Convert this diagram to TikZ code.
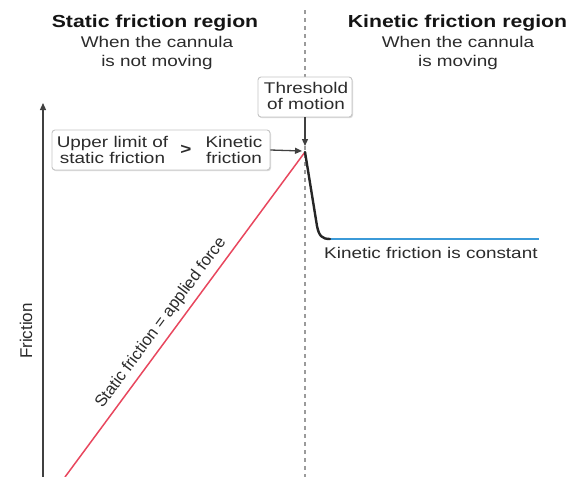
\documentclass[tikz,border=0pt]{standalone}
\usepackage{fontspec}
\setmainfont{Liberation Sans}[FakeStretch=1.22]
\newfontfamily\plainsans{Liberation Sans}
\usetikzlibrary{arrows.meta,shadows}
\definecolor{redline}{HTML}{E8475E}
\definecolor{blueline}{HTML}{3B9AD8}
\definecolor{txt}{HTML}{2B2B2B}
\definecolor{boxedge}{HTML}{C4C4C4}
\definecolor{dashgray}{HTML}{9B9B9B}
\definecolor{axisgray}{HTML}{404040}
\begin{document}
\begin{tikzpicture}[x=1pt,y=-1pt,
  reg/.style={font=\fontsize{15.5}{16}\selectfont, text=txt, inner sep=0pt},
  ttl/.style={font=\fontsize{17.4}{20}\selectfont\bfseries, text=black!92, inner sep=0pt},
  rot/.style={font=\plainsans\fontsize{16.5}{17}\selectfont, text=txt, inner sep=0pt},
  box/.style={draw=boxedge, line width=0.9pt, fill=white, rounded corners=3pt,
    drop shadow={shadow xshift=1pt, shadow yshift=-1.2pt, fill=black!14, opacity=1}},
  ar/.style={-{Triangle[length=7pt,width=6pt]}, line width=1.3pt, draw=axisgray},
]
\useasboundingbox (0,0) rectangle (571,477);
% named points
\coordinate (dtop) at (305,10);
\coordinate (dbot) at (305,477);
\coordinate (orig) at (65,477);
\coordinate (peak) at (305,152);
\coordinate (peakA) at (305,146);
\coordinate (peakL) at (302,151);
\coordinate (bend1) at (317,226);
\coordinate (bend2) at (330,239);
\coordinate (bend3) at (539,239);
\coordinate (axbot) at (43,477);
\coordinate (axtop) at (43,103);
% dashed divider
\draw[dashgray, line width=1.8pt, dash pattern=on 4pt off 4pt] (dtop) -- (dbot);
% titles
\node[ttl, anchor=base] (stitle) at (155,27) {Static friction region};
\node[reg, anchor=base] (ssub1) at (157,47) {When the cannula};
\node[reg, anchor=base] (ssub2) at (157,66) {is not moving};
\node[ttl, anchor=base] (ktitle) at (457.5,27) {Kinetic friction region};
\node[reg, anchor=base] (ksub1) at (458,47) {When the cannula};
\node[reg, anchor=base] (ksub2) at (458,66) {is moving};
% axis
\draw[ar, line width=1.2pt] (axbot) -- (axtop);
\node[rot, font=\plainsans\fontsize{17}{17}\selectfont, rotate=90] (fric) at (26,331) {Friction};
% curves
\draw[redline, line width=1.5pt] (orig) -- (peak);
\draw[blueline, line width=1.5pt] (bend2) -- (bend3);
\draw[black!85, line width=2.4pt, line cap=round] (peak) -- (bend1) .. controls (319,236) and (322,239) .. (bend2);
\node[rot, rotate=53.4] (slab) at (161,323) {Static friction = applied force};
\node[reg, anchor=base west] (kconst) at (324,258) {Kinetic friction is constant};
% threshold box
\node[box, minimum width=94pt, minimum height=40pt, inner sep=0pt] (thr) at (305,97) {};
\node[reg, anchor=base] (thr1) at (306,93) {Threshold};
\node[reg, anchor=base] (thr2) at (306,109) {of motion};
\draw[ar] (thr.south) -- (peakA);
% upper limit box
\node[box, minimum width=218pt, minimum height=40pt, inner sep=0pt] (upper) at (161,150) {};
\node[reg, anchor=base] (up1) at (112.5,147.5) {Upper limit of};
\node[reg, anchor=base] (up2) at (112.5,163) {static friction};
\node[reg, font=\fontsize{15.5}{16}\selectfont\bfseries] (gt) at (186,150) {>};
\node[reg, anchor=base] (kin1) at (234,147.5) {Kinetic};
\node[reg, anchor=base] (kin2) at (234,163) {friction};
\draw[ar] (upper.east) -- (peakL);
\end{tikzpicture}
\end{document}
